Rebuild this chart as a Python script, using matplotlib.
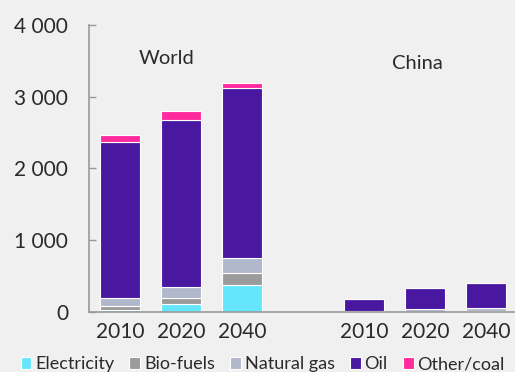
import matplotlib
matplotlib.use("Agg")
import matplotlib.pyplot as plt
import numpy as np

plt.rcParams['font.family'] = ['Lato', 'DejaVu Sans']

categories = ["2010", "2020", "2040", "2010", "2020", "2040"]
positions = [0, 1, 2, 4, 5, 6]
series_names = ["Electricity", "Bio-fuels", "Natural gas", "Oil", "Other/coal"]
electricity = [30, 105, 375, 0, 0, 10]
biofuels = [50, 95, 175, 0, 0, 0]
natural_gas = [110, 150, 205, 10, 35, 50]
oil = [2180, 2320, 2370, 165, 295, 345]
other_coal = [95, 130, 70, 0, 0, 0]
group_labels = ["World", "China"]
yticks = [0, 1000, 2000, 3000, 4000]
ytick_labels = ["0", "1 000", "2 000", "3 000", "4 000"]

colors = ["#66E6FB", "#9B9B9B", "#B1B8CC", "#4A17A0", "#FF2B9E"]
series = [electricity, biofuels, natural_gas, oil, other_coal]

bg = "#F0F0F0"
fig = plt.figure(figsize=(5.15, 3.72), dpi=100, facecolor=bg)
ax = fig.add_axes([89/515, 1-312/372, (515-89)/515, (312-25)/372], facecolor=bg)

bottom = np.zeros(len(positions))
for name, vals, c in zip(series_names, series, colors):
    ax.bar(positions, vals, width=0.656, bottom=bottom, color=c,
           edgecolor="white", linewidth=0.8, label=name)
    bottom += np.array(vals)

ax.set_xlim(-0.508, 6.475)
ax.set_ylim(0, 4000)
ax.set_yticks(yticks)
ax.set_yticklabels(ytick_labels)
ax.set_xticks(positions)
ax.set_xticklabels(categories)

for s in ["top", "right"]:
    ax.spines[s].set_visible(False)
for s in ["left", "bottom"]:
    ax.spines[s].set_color("#999999")
    ax.spines[s].set_linewidth(1.2)

ax.tick_params(axis="y", direction="in", length=5, width=1, color="#999999",
               labelsize=15, labelcolor="#2a2a2a", pad=15)
ax.tick_params(axis="x", length=0, labelsize=15, labelcolor="#2a2a2a", pad=7)

ax.text(0.77, 3540, group_labels[0], ha="center", va="center", fontsize=14.5, color="#2a2a2a")
ax.text(4.87, 3470, group_labels[1], ha="center", va="center", fontsize=14.5, color="#2a2a2a")

leg = fig.legend(loc="lower center", bbox_to_anchor=(0.51, -0.045), ncol=5,
                 frameon=False, fontsize=13, handlelength=0.6, handleheight=0.6,
                 handletextpad=0.2, columnspacing=0.85, labelcolor="#2a2a2a")
for h in leg.legend_handles:
    h.set_edgecolor("white")

fig.savefig("out.png", dpi=100, facecolor=bg)
